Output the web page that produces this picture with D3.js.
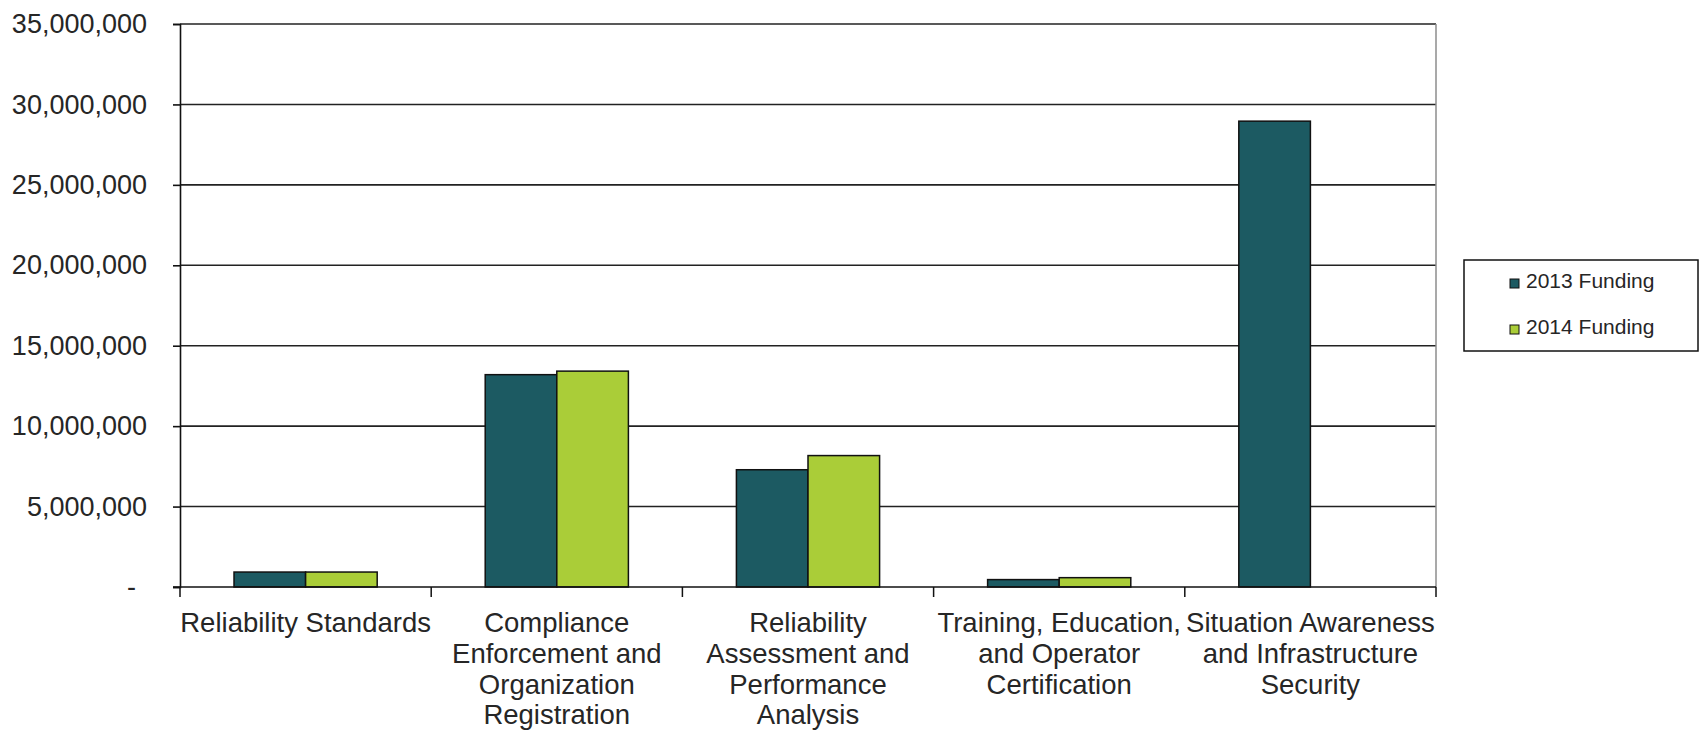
<!DOCTYPE html>
<html>
<head>
<meta charset="utf-8">
<script src="https://cdn.jsdelivr.net/npm/d3@7"></script>
<style>
  body { margin: 0; background: #fff; }
  svg text { font-family: Arial, "Liberation Sans", sans-serif; fill: #262626; }
</style>
</head>
<body>
<div class="chart"></div>
<script>
// chart data
var categories = [
  'Reliability Standards',
  'Compliance Enforcement and Organization Registration',
  'Reliability Assessment and Performance Analysis',
  'Training, Education, and Operator Certification',
  'Situation Awareness and Infrastructure Security'
];
// how each category label is broken into lines under the axis
var categoryLines = [
  ['Reliability Standards'],
  ['Compliance', 'Enforcement and', 'Organization', 'Registration'],
  ['Reliability', 'Assessment and', 'Performance', 'Analysis'],
  ['Training, Education,', 'and Operator', 'Certification'],
  ['Situation Awareness', 'and Infrastructure', 'Security']
];
var seriesNames = ['2013 Funding', '2014 Funding'];
var funding2013 = [930000, 13200000, 7290000, 460000, 28960000];
var funding2014 = [930000, 13420000, 8170000, 580000, 0];
var yTicks = [0, 5000000, 10000000, 15000000, 20000000, 25000000, 30000000, 35000000];
var colors = ['#1c5a62', '#aacd38'];

var W = 1703, H = 731;
var margin = { top: 24, left: 180 };
var width = 1256, height = 563;

var svg = d3.select('.chart')
  .append('svg')
    .attr('width', W)
    .attr('height', H);

var g = svg.append('g')
    .attr('transform', 'translate(' + margin.left + ',' + margin.top + ')');

var x0 = d3.scaleBand()
    .domain(categories)
    .range([0, width])
    .paddingInner(0.43)
    .paddingOuter(0.215);

var x1 = d3.scaleBand()
    .domain(seriesNames)
    .range([0, x0.bandwidth()]);

var y = d3.scaleLinear()
    .domain([0, 35000000])
    .range([height, 0]);

var color = d3.scaleOrdinal().domain(seriesNames).range(colors);

// gridlines
g.append('g')
  .selectAll('line')
  .data(yTicks.slice(1))
  .enter().append('line')
    .attr('x1', 0)
    .attr('x2', width)
    .attr('y1', d => y(d))
    .attr('y2', d => y(d))
    .attr('stroke', '#222')
    .attr('stroke-width', 1.6);

// right border of the plot
g.append('line')
    .attr('x1', width).attr('x2', width)
    .attr('y1', 0).attr('y2', height)
    .attr('stroke', '#8c8c8c')
    .attr('stroke-width', 1.5);

// bars
var rows = categories.map((c, i) => ({
  cat: c,
  vals: [
    { key: seriesNames[0], value: funding2013[i] },
    { key: seriesNames[1], value: funding2014[i] }
  ]
}));

g.append('g')
  .selectAll('g')
  .data(rows)
  .enter().append('g')
    .attr('transform', d => 'translate(' + x0(d.cat) + ',0)')
  .selectAll('rect')
  .data(d => d.vals.filter(v => v.value > 0))
  .enter().append('rect')
    .attr('x', d => x1(d.key))
    .attr('y', d => y(d.value))
    .attr('width', x1.bandwidth())
    .attr('height', d => height - y(d.value))
    .attr('fill', d => color(d.key))
    .attr('stroke', '#111')
    .attr('stroke-width', 1.5);

// y axis
var yAxis = d3.axisLeft(y)
    .tickValues(yTicks)
    .tickSize(7)
    .tickPadding(26)
    .tickFormat(d => d === 0 ? '-' : d3.format(',')(d));

var yg = g.append('g').call(yAxis);
yg.selectAll('path, line').attr('stroke', '#111').attr('stroke-width', 1.6);
yg.selectAll('text')
    .style('font-size', '27px')
    .attr('fill', '#262626')
    .attr('dx', d => d === 0 ? -11 : 0);

// x axis: ticks sit on the category boundaries
var bounds = d3.range(categories.length + 1).map(i => i * x0.step());
var xg = g.append('g').attr('transform', 'translate(0,' + height + ')');
xg.append('line')
    .attr('x1', -7).attr('x2', width)
    .attr('stroke', '#111').attr('stroke-width', 1.6);
xg.selectAll('.tick')
  .data(bounds)
  .enter().append('line')
    .attr('class', 'tick')
    .attr('x1', d => d).attr('x2', d => d)
    .attr('y1', 0).attr('y2', 10)
    .attr('stroke', '#111').attr('stroke-width', 1.5);

// category labels
var labels = xg.selectAll('.cat')
  .data(categories)
  .enter().append('text')
    .attr('class', 'cat')
    .attr('text-anchor', 'middle')
    .style('font-size', '27.5px')
    .attr('transform', d => 'translate(' + (x0(d) + x0.bandwidth() / 2) + ',45)');

labels.selectAll('tspan')
  .data((d, i) => categoryLines[i])
  .enter().append('tspan')
    .attr('x', 0)
    .attr('y', (d, i) => i * 30.8)
    .text(d => d);

// legend
var legend = svg.append('g').attr('transform', 'translate(1464,260)');
legend.append('rect')
    .attr('width', 234)
    .attr('height', 91)
    .attr('fill', '#fff')
    .attr('stroke', '#111')
    .attr('stroke-width', 1.5);

var items = legend.selectAll('.item')
  .data(seriesNames)
  .enter().append('g')
    .attr('class', 'item')
    .attr('transform', (d, i) => 'translate(46,' + (28 + i * 46) + ')');

items.append('rect')
    .attr('y', -9)
    .attr('width', 9)
    .attr('height', 9)
    .attr('fill', d => color(d))
    .attr('stroke', '#111')
    .attr('stroke-width', 1);

items.append('text')
    .attr('x', 16)
    .attr('y', 0)
    .style('font-size', '21px')
    .text(d => d);
</script>
</body>
</html>
